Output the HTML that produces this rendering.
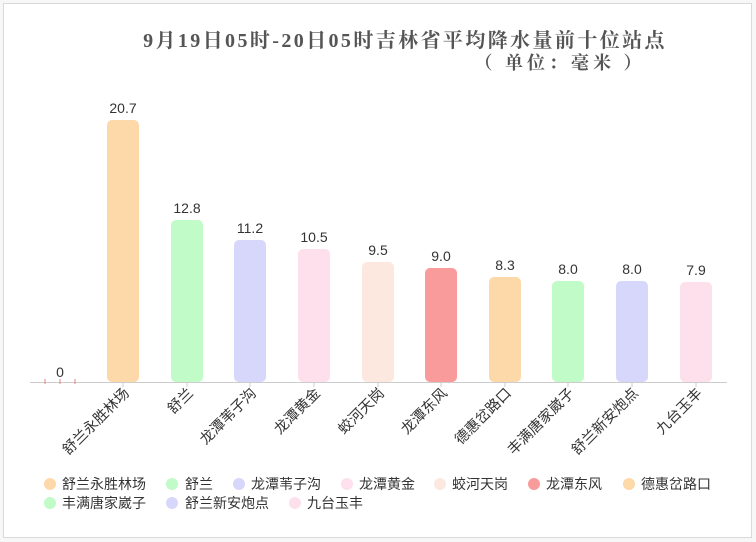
<!DOCTYPE html>
<html><head><meta charset="utf-8"><style>
body{margin:0;background:#fff;}
svg{display:block;font-family:"Liberation Sans","Noto Sans CJK SC",sans-serif;}
</style></head><body>
<svg width="756" height="542" viewBox="0 0 756 542">
<rect x="0" y="0" width="756" height="542" fill="#f7f7f7"/>
<rect x="3.5" y="3.5" width="748" height="534" fill="#fff" stroke="#d9d9d9"/>
<text x="405" y="47" text-anchor="middle" font-family="'Liberation Serif','Noto Serif CJK SC',serif" font-weight="bold" font-size="20" fill="#555" letter-spacing="2.4">9月19日05时-20日05时吉林省平均降水量前十位站点</text>
<text x="560" y="69" text-anchor="middle" font-family="'Liberation Serif','Noto Serif CJK SC',serif" font-weight="bold" font-size="18" fill="#555" letter-spacing="4">（ 单位：毫米 ）</text>
<g>
<rect x="107" y="120" width="32" height="262" rx="5" fill="#fdd8a8"/>
<rect x="171" y="220" width="32" height="162" rx="5" fill="#c0fbc8"/>
<rect x="234" y="240" width="32" height="142" rx="5" fill="#d7d7fb"/>
<rect x="298" y="249" width="32" height="133" rx="5" fill="#fde0ec"/>
<rect x="362" y="262" width="32" height="120" rx="5" fill="#fde8e0"/>
<rect x="425" y="268" width="32" height="114" rx="5" fill="#fa9b9b"/>
<rect x="489" y="277" width="32" height="105" rx="5" fill="#fdd8a8"/>
<rect x="552" y="281" width="32" height="101" rx="5" fill="#c0fbc8"/>
<rect x="616" y="281" width="32" height="101" rx="5" fill="#d7d7fb"/>
<rect x="680" y="282" width="32" height="100" rx="5" fill="#fde0ec"/>
</g>
<line x1="30" y1="382.5" x2="727" y2="382.5" stroke="#ccc"/>
<g stroke="#ccc">
<line x1="123" y1="382" x2="123" y2="387"/><line x1="187" y1="382" x2="187" y2="387"/><line x1="250" y1="382" x2="250" y2="387"/><line x1="314" y1="382" x2="314" y2="387"/><line x1="378" y1="382" x2="378" y2="387"/><line x1="441" y1="382" x2="441" y2="387"/><line x1="505" y1="382" x2="505" y2="387"/><line x1="568" y1="382" x2="568" y2="387"/><line x1="632" y1="382" x2="632" y2="387"/><line x1="696" y1="382" x2="696" y2="387"/>
</g>
<g stroke="#e08080"><line x1="45" y1="379" x2="45" y2="384"/><line x1="60" y1="379" x2="60" y2="384"/><line x1="75" y1="379" x2="75" y2="384"/></g>
<g font-size="14" fill="#333" text-anchor="middle">
<text x="60" y="377">0</text>
<text x="123" y="113">20.7</text>
<text x="187" y="213">12.8</text>
<text x="250" y="233">11.2</text>
<text x="314" y="242">10.5</text>
<text x="378" y="255">9.5</text>
<text x="441" y="261">9.0</text>
<text x="505" y="270">8.3</text>
<text x="568" y="274">8.0</text>
<text x="632" y="274">8.0</text>
<text x="696" y="275">7.9</text>
</g>
<g font-size="14.5" fill="#333" text-anchor="end">
<text transform="translate(130,394) rotate(-45)">舒兰永胜林场</text>
<text transform="translate(194,394) rotate(-45)">舒兰</text>
<text transform="translate(257,394) rotate(-45)">龙潭苇子沟</text>
<text transform="translate(321,394) rotate(-45)">龙潭黄金</text>
<text transform="translate(385,394) rotate(-45)">蛟河天岗</text>
<text transform="translate(448,394) rotate(-45)">龙潭东风</text>
<text transform="translate(512,394) rotate(-45)">德惠岔路口</text>
<text transform="translate(575,394) rotate(-45)">丰满唐家崴子</text>
<text transform="translate(639,394) rotate(-45)">舒兰新安炮点</text>
<text transform="translate(703,394) rotate(-45)">九台玉丰</text>
</g>
<g font-size="14" fill="#333">
<circle cx="50" cy="484" r="6" fill="#fdd8a8"/><text x="62" y="489">舒兰永胜林场</text>
<circle cx="172" cy="484" r="6" fill="#c0fbc8"/><text x="185" y="489">舒兰</text>
<circle cx="239" cy="484" r="6" fill="#d7d7fb"/><text x="251" y="489">龙潭苇子沟</text>
<circle cx="347" cy="484" r="6" fill="#fde0ec"/><text x="359" y="489">龙潭黄金</text>
<circle cx="440" cy="484" r="6" fill="#fde8e0"/><text x="452" y="489">蛟河天岗</text>
<circle cx="534" cy="484" r="6" fill="#fa9b9b"/><text x="546" y="489">龙潭东风</text>
<circle cx="629" cy="484" r="6" fill="#fdd8a8"/><text x="641" y="489">德惠岔路口</text>
<circle cx="50" cy="503" r="6" fill="#c0fbc8"/><text x="62" y="508">丰满唐家崴子</text>
<circle cx="172" cy="503" r="6" fill="#d7d7fb"/><text x="185" y="508">舒兰新安炮点</text>
<circle cx="295" cy="503" r="6" fill="#fde0ec"/><text x="307" y="508">九台玉丰</text>
</g>
</svg>
</body></html>
